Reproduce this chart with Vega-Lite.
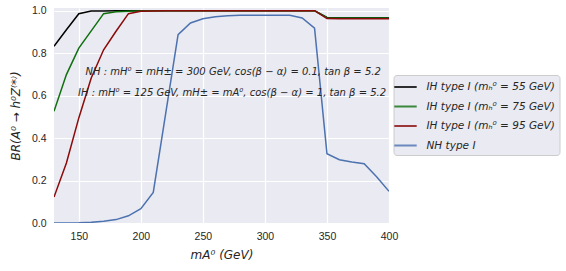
{
  "$schema": "https://vega.github.io/schema/vega-lite/v6.json",
  "autosize": "none",
  "width": 335,
  "height": 215,
  "padding": {"left": 54, "top": 8, "right": 177, "bottom": 48},
  "background": "white",
  "config": {
    "view": {"fill": "#eaeaf2", "stroke": null},
    "axis": {
      "grid": true, "gridColor": "white", "gridWidth": 1.2,
      "domain": false, "ticks": false, "labelFlush": false,
      "labelFont": "Liberation Sans", "labelFontSize": 10.5, "labelColor": "#262626",
      "titleFont": "DejaVu Sans", "titleFontSize": 12, "titleFontStyle": "italic", "titleFontWeight": "normal", "titleColor": "#262626"
    }
  },
  "datasets": {
    "curves": [
      {"m":130,"s":"IH type I (mₕ⁰ = 55 GeV)","br":0.832},
      {"m":140,"s":"IH type I (mₕ⁰ = 55 GeV)","br":0.91},
      {"m":150,"s":"IH type I (mₕ⁰ = 55 GeV)","br":0.986},
      {"m":160,"s":"IH type I (mₕ⁰ = 55 GeV)","br":0.998},
      {"m":170,"s":"IH type I (mₕ⁰ = 55 GeV)","br":0.999},
      {"m":180,"s":"IH type I (mₕ⁰ = 55 GeV)","br":1.0},
      {"m":190,"s":"IH type I (mₕ⁰ = 55 GeV)","br":1.0},
      {"m":200,"s":"IH type I (mₕ⁰ = 55 GeV)","br":1.0},
      {"m":210,"s":"IH type I (mₕ⁰ = 55 GeV)","br":1.0},
      {"m":220,"s":"IH type I (mₕ⁰ = 55 GeV)","br":1.0},
      {"m":230,"s":"IH type I (mₕ⁰ = 55 GeV)","br":1.0},
      {"m":240,"s":"IH type I (mₕ⁰ = 55 GeV)","br":1.0},
      {"m":250,"s":"IH type I (mₕ⁰ = 55 GeV)","br":1.0},
      {"m":260,"s":"IH type I (mₕ⁰ = 55 GeV)","br":1.0},
      {"m":270,"s":"IH type I (mₕ⁰ = 55 GeV)","br":1.0},
      {"m":280,"s":"IH type I (mₕ⁰ = 55 GeV)","br":1.0},
      {"m":290,"s":"IH type I (mₕ⁰ = 55 GeV)","br":1.0},
      {"m":300,"s":"IH type I (mₕ⁰ = 55 GeV)","br":1.0},
      {"m":310,"s":"IH type I (mₕ⁰ = 55 GeV)","br":1.0},
      {"m":320,"s":"IH type I (mₕ⁰ = 55 GeV)","br":1.0},
      {"m":330,"s":"IH type I (mₕ⁰ = 55 GeV)","br":1.0},
      {"m":340,"s":"IH type I (mₕ⁰ = 55 GeV)","br":1.0},
      {"m":350,"s":"IH type I (mₕ⁰ = 55 GeV)","br":0.968},
      {"m":360,"s":"IH type I (mₕ⁰ = 55 GeV)","br":0.967},
      {"m":370,"s":"IH type I (mₕ⁰ = 55 GeV)","br":0.967},
      {"m":380,"s":"IH type I (mₕ⁰ = 55 GeV)","br":0.967},
      {"m":390,"s":"IH type I (mₕ⁰ = 55 GeV)","br":0.967},
      {"m":400,"s":"IH type I (mₕ⁰ = 55 GeV)","br":0.967},

      {"m":130,"s":"IH type I (mₕ⁰ = 75 GeV)","br":0.526},
      {"m":140,"s":"IH type I (mₕ⁰ = 75 GeV)","br":0.699},
      {"m":150,"s":"IH type I (mₕ⁰ = 75 GeV)","br":0.824},
      {"m":160,"s":"IH type I (mₕ⁰ = 75 GeV)","br":0.905},
      {"m":170,"s":"IH type I (mₕ⁰ = 75 GeV)","br":0.986},
      {"m":180,"s":"IH type I (mₕ⁰ = 75 GeV)","br":0.995},
      {"m":190,"s":"IH type I (mₕ⁰ = 75 GeV)","br":0.997},
      {"m":200,"s":"IH type I (mₕ⁰ = 75 GeV)","br":0.999},
      {"m":210,"s":"IH type I (mₕ⁰ = 75 GeV)","br":1.0},
      {"m":220,"s":"IH type I (mₕ⁰ = 75 GeV)","br":1.0},
      {"m":230,"s":"IH type I (mₕ⁰ = 75 GeV)","br":1.0},
      {"m":240,"s":"IH type I (mₕ⁰ = 75 GeV)","br":1.0},
      {"m":250,"s":"IH type I (mₕ⁰ = 75 GeV)","br":1.0},
      {"m":260,"s":"IH type I (mₕ⁰ = 75 GeV)","br":1.0},
      {"m":270,"s":"IH type I (mₕ⁰ = 75 GeV)","br":1.0},
      {"m":280,"s":"IH type I (mₕ⁰ = 75 GeV)","br":1.0},
      {"m":290,"s":"IH type I (mₕ⁰ = 75 GeV)","br":1.0},
      {"m":300,"s":"IH type I (mₕ⁰ = 75 GeV)","br":1.0},
      {"m":310,"s":"IH type I (mₕ⁰ = 75 GeV)","br":1.0},
      {"m":320,"s":"IH type I (mₕ⁰ = 75 GeV)","br":1.0},
      {"m":330,"s":"IH type I (mₕ⁰ = 75 GeV)","br":1.0},
      {"m":340,"s":"IH type I (mₕ⁰ = 75 GeV)","br":1.0},
      {"m":350,"s":"IH type I (mₕ⁰ = 75 GeV)","br":0.967},
      {"m":360,"s":"IH type I (mₕ⁰ = 75 GeV)","br":0.966},
      {"m":370,"s":"IH type I (mₕ⁰ = 75 GeV)","br":0.966},
      {"m":380,"s":"IH type I (mₕ⁰ = 75 GeV)","br":0.966},
      {"m":390,"s":"IH type I (mₕ⁰ = 75 GeV)","br":0.966},
      {"m":400,"s":"IH type I (mₕ⁰ = 75 GeV)","br":0.966},

      {"m":130,"s":"IH type I (mₕ⁰ = 95 GeV)","br":0.122},
      {"m":140,"s":"IH type I (mₕ⁰ = 95 GeV)","br":0.283},
      {"m":150,"s":"IH type I (mₕ⁰ = 95 GeV)","br":0.495},
      {"m":160,"s":"IH type I (mₕ⁰ = 95 GeV)","br":0.683},
      {"m":170,"s":"IH type I (mₕ⁰ = 95 GeV)","br":0.816},
      {"m":180,"s":"IH type I (mₕ⁰ = 95 GeV)","br":0.903},
      {"m":190,"s":"IH type I (mₕ⁰ = 95 GeV)","br":0.986},
      {"m":200,"s":"IH type I (mₕ⁰ = 95 GeV)","br":0.997},
      {"m":210,"s":"IH type I (mₕ⁰ = 95 GeV)","br":0.999},
      {"m":220,"s":"IH type I (mₕ⁰ = 95 GeV)","br":1.0},
      {"m":230,"s":"IH type I (mₕ⁰ = 95 GeV)","br":1.0},
      {"m":240,"s":"IH type I (mₕ⁰ = 95 GeV)","br":1.0},
      {"m":250,"s":"IH type I (mₕ⁰ = 95 GeV)","br":1.0},
      {"m":260,"s":"IH type I (mₕ⁰ = 95 GeV)","br":1.0},
      {"m":270,"s":"IH type I (mₕ⁰ = 95 GeV)","br":1.0},
      {"m":280,"s":"IH type I (mₕ⁰ = 95 GeV)","br":1.0},
      {"m":290,"s":"IH type I (mₕ⁰ = 95 GeV)","br":1.0},
      {"m":300,"s":"IH type I (mₕ⁰ = 95 GeV)","br":1.0},
      {"m":310,"s":"IH type I (mₕ⁰ = 95 GeV)","br":1.0},
      {"m":320,"s":"IH type I (mₕ⁰ = 95 GeV)","br":1.0},
      {"m":330,"s":"IH type I (mₕ⁰ = 95 GeV)","br":1.0},
      {"m":340,"s":"IH type I (mₕ⁰ = 95 GeV)","br":1.0},
      {"m":350,"s":"IH type I (mₕ⁰ = 95 GeV)","br":0.963},
      {"m":360,"s":"IH type I (mₕ⁰ = 95 GeV)","br":0.962},
      {"m":370,"s":"IH type I (mₕ⁰ = 95 GeV)","br":0.962},
      {"m":380,"s":"IH type I (mₕ⁰ = 95 GeV)","br":0.962},
      {"m":390,"s":"IH type I (mₕ⁰ = 95 GeV)","br":0.962},
      {"m":400,"s":"IH type I (mₕ⁰ = 95 GeV)","br":0.962},

      {"m":130,"s":"NH type I","br":0.0},
      {"m":140,"s":"NH type I","br":0.0003},
      {"m":150,"s":"NH type I","br":0.001},
      {"m":160,"s":"NH type I","br":0.003},
      {"m":170,"s":"NH type I","br":0.008},
      {"m":180,"s":"NH type I","br":0.016},
      {"m":190,"s":"NH type I","br":0.034},
      {"m":200,"s":"NH type I","br":0.067},
      {"m":210,"s":"NH type I","br":0.144},
      {"m":220,"s":"NH type I","br":0.515},
      {"m":230,"s":"NH type I","br":0.887},
      {"m":240,"s":"NH type I","br":0.942},
      {"m":250,"s":"NH type I","br":0.962},
      {"m":260,"s":"NH type I","br":0.971},
      {"m":270,"s":"NH type I","br":0.976},
      {"m":280,"s":"NH type I","br":0.978},
      {"m":290,"s":"NH type I","br":0.979},
      {"m":300,"s":"NH type I","br":0.979},
      {"m":310,"s":"NH type I","br":0.979},
      {"m":320,"s":"NH type I","br":0.978},
      {"m":330,"s":"NH type I","br":0.966},
      {"m":340,"s":"NH type I","br":0.918},
      {"m":350,"s":"NH type I","br":0.326},
      {"m":360,"s":"NH type I","br":0.298},
      {"m":370,"s":"NH type I","br":0.287},
      {"m":380,"s":"NH type I","br":0.279},
      {"m":390,"s":"NH type I","br":0.218},
      {"m":400,"s":"NH type I","br":0.149}
    ],
    "notes": [
      {"m":274.4,"br":0.713,"t":"NH : mH⁰ = mH± = 300 GeV, cos(β − α) = 0.1, tan β = 5.2"},
      {"m":273.5,"br":0.613,"t":"IH : mH⁰ = 125 GeV, mH± = mA⁰, cos(β − α) = 1, tan β = 5.2"}
    ]
  },
  "layer": [
    {
      "data": {"name": "curves"},
      "mark": {"type": "line", "strokeWidth": 1.5, "clip": true},
      "encoding": {
        "x": {"field": "m", "type": "quantitative",
              "scale": {"domain": [130, 400], "nice": false, "zero": false},
              "axis": {"values": [150, 200, 250, 300, 350, 400], "title": "mA⁰ (GeV)", "labelPadding": 8, "titlePadding": 8}},
        "y": {"field": "br", "type": "quantitative",
              "scale": {"domain": [0, 1.0127], "nice": false},
              "axis": {"values": [0, 0.2, 0.4, 0.6, 0.8, 1.0], "format": ".1f", "title": "BR(A⁰ → h⁰Z⁽*⁾)", "labelPadding": 8, "titlePadding": 9}},
        "color": {"field": "s", "type": "nominal",
                  "scale": {"domain": ["IH type I (mₕ⁰ = 55 GeV)", "IH type I (mₕ⁰ = 75 GeV)", "IH type I (mₕ⁰ = 95 GeV)", "NH type I"],
                            "range": ["#000000", "#107010", "#8b0a0a", "#4c72b0"]},
                  "legend": {"title": null, "orient": "none", "legendX": 339.5, "legendY": 67,
                             "symbolType": "M-1.6,0H1.6", "symbolSize": 196, "symbolStrokeWidth": 2, "symbolOpacity": 0.8,
                             "labelFont": "DejaVu Sans", "labelFontStyle": "italic", "labelFontSize": 10.5, "labelColor": "#262626",
                             "fillColor": "#eaeaf2", "strokeColor": "#cccccc", "cornerRadius": 3, "padding": 4, "rowPadding": 5.5, "labelOffset": 13}}
      }
    },
    {
      "data": {"name": "notes"},
      "mark": {"type": "text", "font": "DejaVu Sans", "fontStyle": "italic", "fontSize": 10, "color": "#262626", "align": "center", "baseline": "middle"},
      "encoding": {
        "x": {"field": "m", "type": "quantitative"},
        "y": {"field": "br", "type": "quantitative"},
        "text": {"field": "t"}
      }
    }
  ]
}
